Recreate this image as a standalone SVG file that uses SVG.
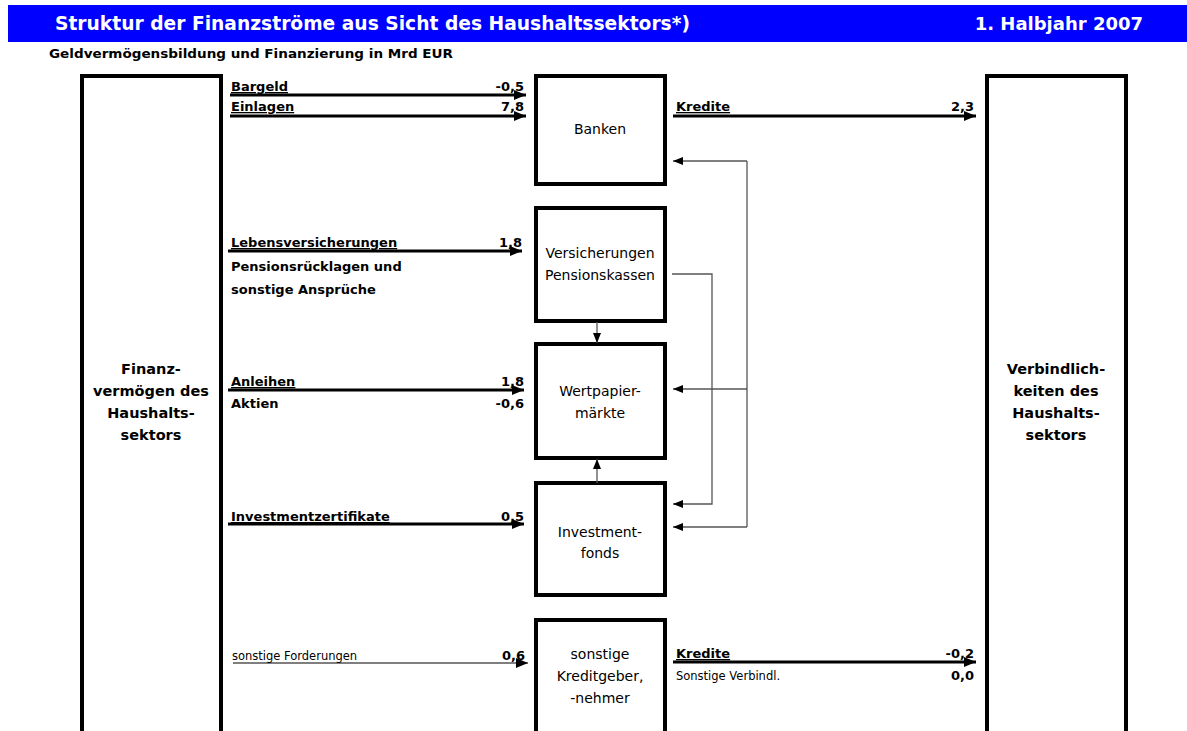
<svg xmlns="http://www.w3.org/2000/svg" width="1187" height="731" viewBox="0 0 1187 731">
<defs>
<marker id="ah" viewBox="0 0 12 10" refX="12" refY="5" markerWidth="12" markerHeight="10" markerUnits="userSpaceOnUse" orient="auto"><path d="M0,0 L12,5 L0,10 Z" fill="#000"/></marker>
<marker id="as" viewBox="0 0 10 8" refX="10" refY="4" markerWidth="10" markerHeight="8" markerUnits="userSpaceOnUse" orient="auto"><path d="M0,0 L10,4 L0,8 Z" fill="#000"/></marker>
</defs>
<style>
text{font-family:"DejaVu Sans","Liberation Sans",sans-serif;fill:#000}
.t{font-size:19.5px;font-weight:bold;fill:#fff}
.sub{font-size:12.5px;font-weight:bold}
.lb{font-size:13px;font-weight:bold}
.u{text-decoration:underline}
.sm{font-size:11.5px}
.v{font-size:13px;font-weight:bold;text-anchor:end}
.n{font-size:14px;text-anchor:middle}
.nb{font-size:14.5px;font-weight:bold;text-anchor:middle}
.box{fill:#fff;stroke:#000;stroke-width:4}
.thick{stroke:#000;stroke-width:3;fill:none;marker-end:url(#ah)}
.thin{stroke:#000;stroke-width:1.2;fill:none;marker-end:url(#ah)}
.int{stroke:#555;stroke-width:1.3;fill:none}
.inta{stroke:#555;stroke-width:1.3;fill:none;marker-end:url(#as)}
</style>
<rect x="8" y="5" width="1179" height="37" fill="#0000ff"/>
<text class="t" x="55" y="30" textLength="635" lengthAdjust="spacingAndGlyphs">Struktur der Finanzströme aus Sicht des Haushaltssektors*)</text>
<text class="t" x="1143" y="30" text-anchor="end" style="font-size:18px">1. Halbjahr 2007</text>
<text class="sub" x="49" y="58" textLength="404" lengthAdjust="spacingAndGlyphs">Geldvermögensbildung und Finanzierung in Mrd EUR</text>

<g id="haushalt-vermoegen">
<rect class="box" x="82" y="76" width="139" height="660"/>
<text class="nb" x="151" y="374">Finanz-</text>
<text class="nb" x="151" y="396">vermögen des</text>
<text class="nb" x="151" y="418">Haushalts-</text>
<text class="nb" x="151" y="440">sektors</text>
</g>
<g id="haushalt-verbindlichkeiten">
<rect class="box" x="987" y="76" width="139" height="660"/>
<text class="nb" x="1056" y="374">Verbindlich-</text>
<text class="nb" x="1056" y="396">keiten des</text>
<text class="nb" x="1056" y="418">Haushalts-</text>
<text class="nb" x="1056" y="440">sektors</text>
</g>
<g id="banken">
<rect class="box" x="536" y="76" width="129" height="108"/>
<text class="n" x="600" y="134">Banken</text>
</g>
<g id="versicherungen">
<rect class="box" x="536" y="208" width="129" height="113"/>
<text class="n" x="600" y="258">Versicherungen</text>
<text class="n" x="600" y="280">Pensionskassen</text>
</g>
<g id="wertpapiermaerkte">
<rect class="box" x="536" y="344" width="129" height="114"/>
<text class="n" x="600" y="396">Wertpapier-</text>
<text class="n" x="600" y="418">märkte</text>
</g>
<g id="investmentfonds">
<rect class="box" x="536" y="483" width="129" height="112"/>
<text class="n" x="600" y="537">Investment-</text>
<text class="n" x="600" y="558">fonds</text>
</g>
<g id="sonstige">
<rect class="box" x="536" y="620" width="129" height="116"/>
<text class="n" x="600" y="659">sonstige</text>
<text class="n" x="600" y="681">Kreditgeber,</text>
<text class="n" x="600" y="703">-nehmer</text>
</g>

<g id="connectors">
<line class="thick" x1="230" y1="95" x2="526" y2="95"/>
<line class="thick" x1="230" y1="116" x2="526" y2="116"/>
<line class="thick" x1="673" y1="116" x2="976" y2="116"/>
<line class="thick" x1="228" y1="251" x2="522" y2="251"/>
<line class="thick" x1="228" y1="390" x2="524" y2="390"/>
<line class="thick" x1="228" y1="524" x2="524" y2="524"/>
<line class="thin" x1="233" y1="663" x2="528" y2="663"/>
<line class="thick" x1="673" y1="662" x2="976" y2="662"/>

<polyline class="int" points="747,161 747,527"/>
<line class="inta" x1="747" y1="161" x2="673" y2="161"/>
<line class="inta" x1="747" y1="389" x2="673" y2="389"/>
<line class="inta" x1="747" y1="527" x2="673" y2="527"/>
<polyline class="inta" points="672,274 712,274 712,504 673,504"/>
<line class="inta" x1="597" y1="322" x2="597" y2="343"/>
<line class="inta" x1="597" y1="483" x2="597" y2="459"/>
</g>

<g id="labels">
<text class="lb u" x="231" y="91">Bargeld</text>
<text class="v" x="524" y="91">-0,5</text>
<text class="lb u" x="231" y="111">Einlagen</text>
<text class="v" x="524" y="111">7,8</text>
<text class="lb u" x="676" y="111">Kredite</text>
<text class="v" x="974" y="111">2,3</text>
<text class="lb u" x="231" y="247">Lebensversicherungen</text>
<text class="v" x="522" y="247">1,8</text>
<text class="lb" x="231" y="271">Pensionsrücklagen und</text>
<text class="lb" x="231" y="294">sonstige Ansprüche</text>
<text class="lb u" x="231" y="386">Anleihen</text>
<text class="v" x="524" y="386">1,8</text>
<text class="lb" x="231" y="408">Aktien</text>
<text class="v" x="524" y="408">-0,6</text>
<text class="lb u" x="231" y="521">Investmentzertifikate</text>
<text class="v" x="524" y="521">0,5</text>
<text class="sm" x="232" y="660">sonstige Forderungen</text>
<text class="v" x="525" y="660">0,6</text>
<text class="lb u" x="676" y="658">Kredite</text>
<text class="v" x="974" y="658">-0,2</text>
<text class="sm" x="676" y="680">Sonstige Verbindl.</text>
<text class="v" x="974" y="680">0,0</text>
</g>
</svg>
